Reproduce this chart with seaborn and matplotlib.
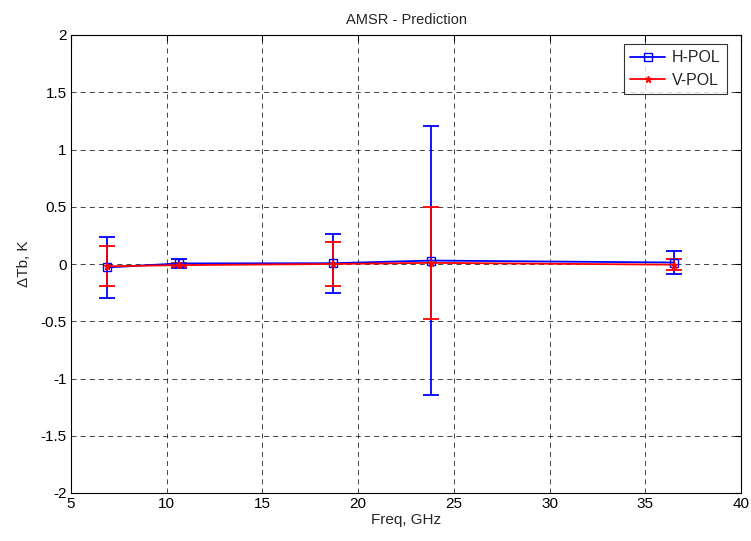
import numpy as np
import pandas as pd
import matplotlib
matplotlib.use("Agg")
import matplotlib.pyplot as plt
import seaborn as sns
from matplotlib.lines import Line2D

freq = [6.9, 10.65, 18.7, 23.8, 36.5]
h_pol = [-0.03, 0.005, 0.007, 0.03, 0.013]
h_err = [0.263, 0.04, 0.257, 1.176, 0.103]
v_pol = [-0.02, -0.01, 0.0, 0.01, -0.006]
v_err = [0.175, 0.02, 0.195, 0.49, 0.046]
series = ["H-POL", "V-POL"]
colors = ["#0000ff", "#ff0000"]

sns.set_style("white")
plt.rcParams['font.family'] = ['Liberation Sans', 'DejaVu Sans']

df = pd.DataFrame({
    "freq": freq * 2,
    "dtb": h_pol + v_pol,
    "pol": [series[0]] * len(freq) + [series[1]] * len(freq),
})

fig = plt.figure(figsize=(7.51, 5.41), dpi=100)
ax = fig.add_axes([71 / 751, 1 - 493 / 541, (741 - 71) / 751, (493 - 35) / 541])

ax.errorbar(freq, h_pol, yerr=h_err, fmt="none", ecolor=colors[0],
            elinewidth=1.3, capsize=6, capthick=1.3, zorder=2)
ax.errorbar(freq, v_pol, yerr=v_err, fmt="none", ecolor=colors[1],
            elinewidth=1.3, capsize=6, capthick=1.3, zorder=2.5)

n_before = len(ax.lines)
sns.lineplot(data=df, x="freq", y="dtb", hue="pol", style="pol",
             markers={"H-POL": "s", "V-POL": "*"}, dashes=False,
             palette=dict(zip(series, colors)), ax=ax, linewidth=1.3,
             legend=False, zorder=3)
for ln, c in zip(ax.lines[n_before:], colors):
    ln.set_markeredgecolor(c)
    ln.set_markeredgewidth(1.0)
    if c == colors[0]:
        ln.set_markerfacecolor("none")
        ln.set_markersize(6)
    else:
        ln.set_markerfacecolor(c)
        ln.set_markersize(5)

ax.set_xlim(5, 40)
ax.set_ylim(-2, 2)
ax.set_xticks(np.arange(5, 41, 5))
ax.set_yticks(np.arange(-2, 2.01, 0.5))
ax.set_yticklabels(["-2", "-1.5", "-1", "-0.5", "0", "0.5", "1", "1.5", "2"])
ax.grid(True, color="black", linestyle=(0, (6, 5)), linewidth=0.6, alpha=0.85)
ax.tick_params(direction="in", length=4, labelsize=11, top=True, right=True,
               colors="black", pad=3)
for s in ax.spines.values():
    s.set_color("black")
    s.set_linewidth(0.8)

ax.set_title("AMSR - Prediction", fontsize=10.5, pad=8)
ax.set_xlabel("Freq, GHz", fontsize=11, labelpad=1)
ax.set_ylabel("ΔTb, K", fontsize=11, labelpad=7)

handles = [
    Line2D([], [], color=colors[0], marker="s", markerfacecolor="none",
           markeredgecolor=colors[0], markersize=6, lw=1.3),
    Line2D([], [], color=colors[1], marker="*", markersize=5, lw=1.3),
]
leg = ax.legend(handles, series, loc="upper right",
                bbox_to_anchor=(1 - 14 / 670, 1 - 9 / 458), fontsize=11.5,
                frameon=True, fancybox=False, edgecolor="black",
                borderaxespad=0.0, handlelength=2.2, handletextpad=0.4,
                labelspacing=0.45, borderpad=0.4)
leg.get_frame().set_linewidth(0.8)

fig.savefig("out.png", dpi=100, facecolor="white")
